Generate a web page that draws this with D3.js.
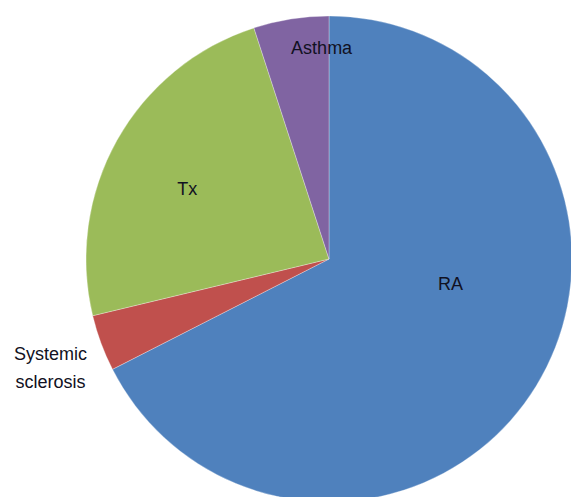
<!DOCTYPE html>
<html>
<head>
<meta charset="utf-8">
<script src="https://cdn.jsdelivr.net/npm/d3@7"></script>
<style>
  html, body { margin: 0; padding: 0; background: #fff; overflow: hidden; }
  #chart { width: 571px; height: 497px; }
</style>
</head>
<body>
<div id="chart"></div>
<script>
// slices, clockwise from 12 o'clock
const categories = ["RA", "Systemic sclerosis", "Tx", "Asthma"];
const counts = [54, 3, 19, 4];
const colors = ["#4f81bd", "#c0504d", "#9bbb59", "#8064a2"];

// label placement: [radius fraction, angle shift in degrees from slice middle]
const labelPlace = {
    "RA": [0.51, -20],
    "Systemic sclerosis": [1.23, -1],
    "Tx": [0.65, -3],
    "Asthma": [0.87, 7]
};

const width = 571, height = 497;
const cx = 329, cy = 259, radius = 243;

const svg = d3.select("#chart").append("svg")
    .attr("width", width)
    .attr("height", height);

const g = svg.append("g")
    .attr("transform", `translate(${cx},${cy})`);

const pie = d3.pie().sort(null).value(d => d.value);
const data = categories.map((c, i) => ({ name: c, value: counts[i] }));
const arcs = pie(data);

const arc = d3.arc().innerRadius(0).outerRadius(radius);

g.selectAll("path.slice")
    .data(arcs)
    .enter().append("path")
    .attr("class", "slice")
    .attr("d", arc)
    .attr("fill", (d, i) => colors[i])
    .attr("stroke", "#ffffff")
    .attr("stroke-opacity", 0.3)
    .attr("stroke-width", 1);

// labels
g.selectAll("text.lbl")
    .data(arcs)
    .enter().append("text")
    .attr("class", "lbl")
    .attr("text-anchor", "middle")
    .style("font-family", "'Liberation Sans', Arial, sans-serif")
    .style("font-size", "18px")
    .attr("fill", "#111122")
    .each(function(d) {
        const p = labelPlace[d.data.name];
        const a = (d.startAngle + d.endAngle) / 2 + p[1] * Math.PI / 180;
        const r = radius * p[0];
        const x = r * Math.sin(a), y = -r * Math.cos(a);
        const words = d.data.name === "Systemic sclerosis" ? ["Systemic", "sclerosis"] : [d.data.name];
        const lh = 28;
        const t = d3.select(this);
        words.forEach((w, k) => {
            t.append("tspan")
                .attr("x", x)
                .attr("y", y + (k - (words.length - 1) / 2) * lh)
                .attr("dy", "0.35em")
                .text(w);
        });
    });
</script>
</body>
</html>
